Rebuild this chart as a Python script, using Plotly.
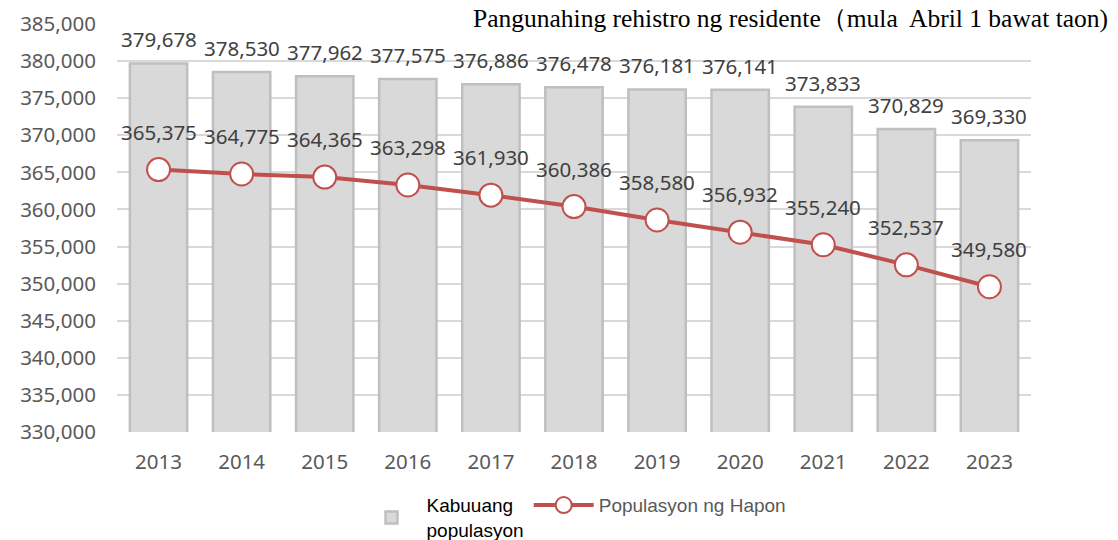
import plotly.graph_objects as go

years = ["2013", "2014", "2015", "2016", "2017", "2018", "2019", "2020", "2021", "2022", "2023"]
total_pop = [379678, 378530, 377962, 377575, 376886, 376478, 376181, 376141, 373833, 370829, 369330]
japanese_pop = [365375, 364775, 364365, 363298, 361930, 360386, 358580, 356932, 355240, 352537, 349580]

font_main = "Noto Sans, Open Sans, DejaVu Sans, sans-serif"
FS = 20.5

fig = go.Figure()
fig.add_trace(go.Bar(
    x=years, y=total_pop,
    name="<span style='color:#000000'>Kabuuang<br>populasyon</span>",
    marker=dict(color="#d9d9d9", line=dict(color="#bfbfbf", width=2.5)),
))
fig.add_trace(go.Scatter(
    x=years, y=japanese_pop, mode="lines+markers",
    name="Populasyon ng Hapon",
    line=dict(color="#c0504d", width=4),
    marker=dict(size=23, color="white", line=dict(color="#c0504d", width=2)),
))
for i, v in enumerate(total_pop):
    fig.add_annotation(x=i, y=v, text=f"{v:,}", showarrow=False, yshift=24,
                       font=dict(size=FS, color="#404040", family=font_main))
for i, v in enumerate(japanese_pop):
    fig.add_annotation(x=i, y=v, text=f"{v:,}", showarrow=False, yshift=38,
                       font=dict(size=FS, color="#404040", family=font_main))

# page has an 8px body margin; figure coordinates are page - 8
L, T, B, R = 109, 16, 108, 87
W, H = 1110, 532
PW, PH = W - L - R, H - T - B

fig.add_annotation(xref="paper", yref="paper", x=(1101 - L) / PW, y=(PH + T - 10) / PH,
                   xanchor="right", yanchor="middle", borderpad=0,
                   text="Pangunahing rehistro ng residente（mula  Abril 1 bawat taon)", showarrow=False,
                   font=dict(size=25.5, color="#000000", family="Liberation Serif, DejaVu Serif, serif"))

fig.update_layout(
    width=W, height=H,
    margin=dict(l=L, r=R, t=T, b=B, autoexpand=False),
    paper_bgcolor="white", plot_bgcolor="white",
    bargap=0.31,
    showlegend=True,
    legend=dict(orientation="h", x=0.5, xanchor="center", y=-0.21, yanchor="middle",
                font=dict(size=19, color="#595959", family="Liberation Sans, Arial, sans-serif"),
                itemwidth=60),
    yaxis=dict(range=[330000, 385000], dtick=5000, tickformat=",", showgrid=True,
               gridcolor="#d9d9d9", gridwidth=1.5, zeroline=False, automargin=False,
               tickfont=dict(size=FS, color="#595959", family=font_main), ticks="", ticklabelstandoff=20),
    xaxis=dict(type="category", range=[-0.5, 10.5], automargin=False,
               tickfont=dict(size=FS, color="#595959", family=font_main),
               showline=False, ticks="", ticklabelstandoff=15),
)

fig.write_html("out.html")
